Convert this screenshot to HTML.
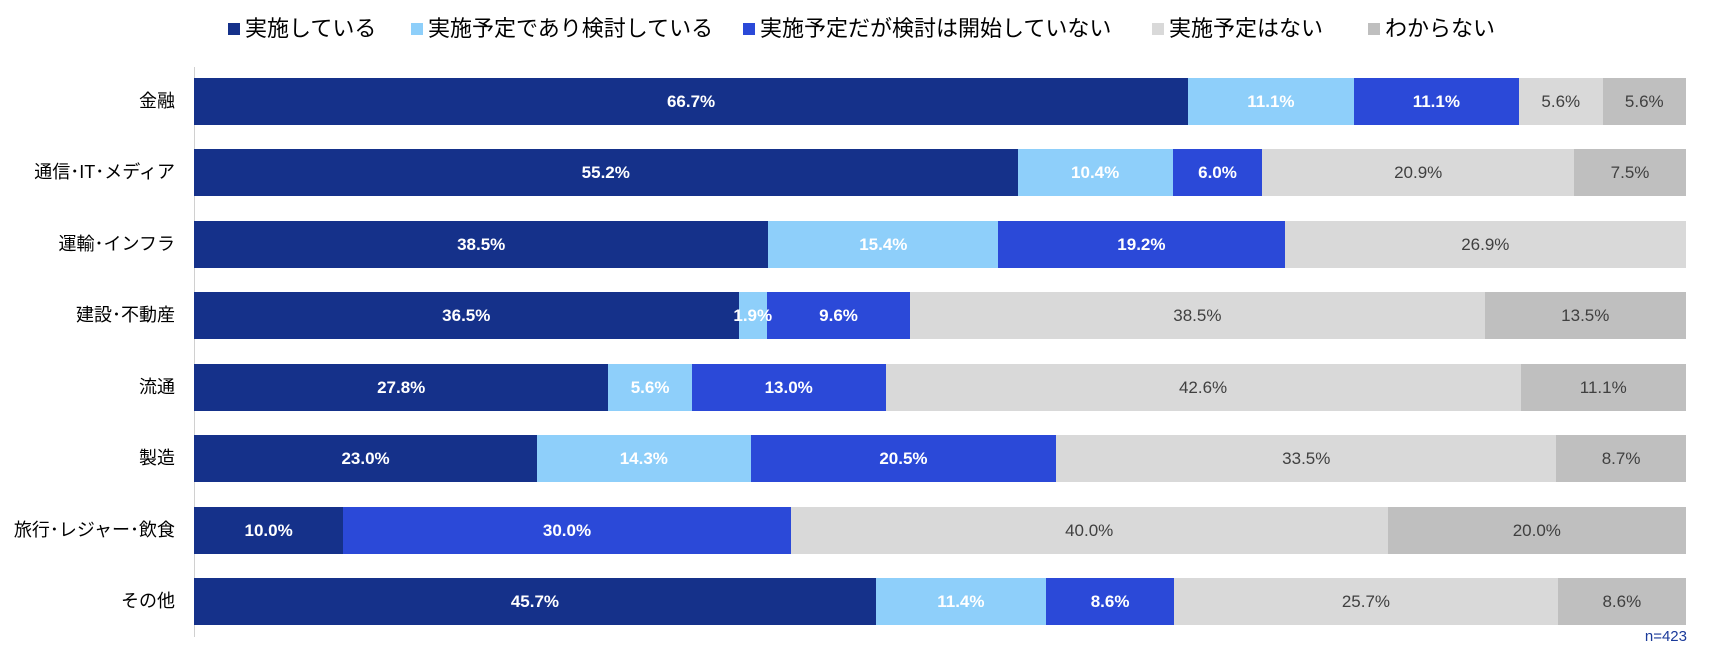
<!DOCTYPE html>
<html><head><meta charset="utf-8">
<style>
body{margin:0;width:1714px;height:648px;background:#fff;position:relative;overflow:hidden;font-family:"Liberation Sans","Noto Sans CJK JP",sans-serif;}
.lg{position:absolute;top:16px;font-size:22px;color:#000;white-space:nowrap;line-height:26px}
.lg i{display:inline-block;width:12px;height:12px;margin-right:5px;vertical-align:1px}
.cat{position:absolute;right:1539px;font-size:18px;color:#000;white-space:nowrap;text-align:right;line-height:47px}
.seg{position:absolute;height:47px;}
.lab{position:absolute;height:47px;line-height:47px;text-align:center;font-size:17px;white-space:nowrap;z-index:2}
.w{color:#fff;font-weight:bold}
.g{color:#404040}
</style></head><body>
<div class="lg" style="left:228px"><i style="background:#15318a"></i>実施している</div>
<div class="lg" style="left:411px"><i style="background:#8ecffa"></i>実施予定であり検討している</div>
<div class="lg" style="left:743px"><i style="background:#2b49d8"></i>実施予定だが検討は開始していない</div>
<div class="lg" style="left:1152px"><i style="background:#d9d9d9"></i>実施予定はない</div>
<div class="lg" style="left:1368px"><i style="background:#bfbfbf"></i>わからない</div>
<div style="position:absolute;left:194px;top:67px;width:1px;height:570px;background:#d0d0d0"></div>
<div id="c"></div>
<div style="position:absolute;right:27px;top:628px;font-size:15px;color:#1a3a9a">n=423</div>
<script>
(function(){
var cats=["金融","通信･IT･メディア","運輸･インフラ","建設･不動産","流通","製造","旅行･レジャー･飲食","その他"];
var d=[[66.7,11.1,11.1,5.6,5.6],[55.2,10.4,6.0,20.9,7.5],[38.5,15.4,19.2,26.9,0],[36.5,1.9,9.6,38.5,13.5],[27.8,5.6,13.0,42.6,11.1],[23.0,14.3,20.5,33.5,8.7],[10.0,0,30.0,40.0,20.0],[45.7,11.4,8.6,25.7,8.6]];
var col=["#15318a","#8ecffa","#2b49d8","#d9d9d9","#bfbfbf"];
var h="";
for(var r=0;r<8;r++){
 var ty=Math.round(78+r*71.43), x=194, sum=d[r].reduce(function(a,b){return a+b},0);
 h+='<div class="cat" style="top:'+ty+'px">'+cats[r]+'</div>';
 for(var k=0;k<5;k++){
  var v=d[r][k]; if(!v) continue;
  var w=v/sum*1492;
  h+='<div class="seg" style="left:'+x+'px;top:'+ty+'px;width:'+w+'px;background:'+col[k]+'"></div>';
  h+='<div class="lab '+(k<3?'w':'g')+'" style="left:'+(x+w/2-40)+'px;top:'+ty+'px;width:80px">'+v.toFixed(1)+'%</div>';
  x+=w;
 }
}
document.getElementById("c").innerHTML=h;
})();
</script>
</body></html>
